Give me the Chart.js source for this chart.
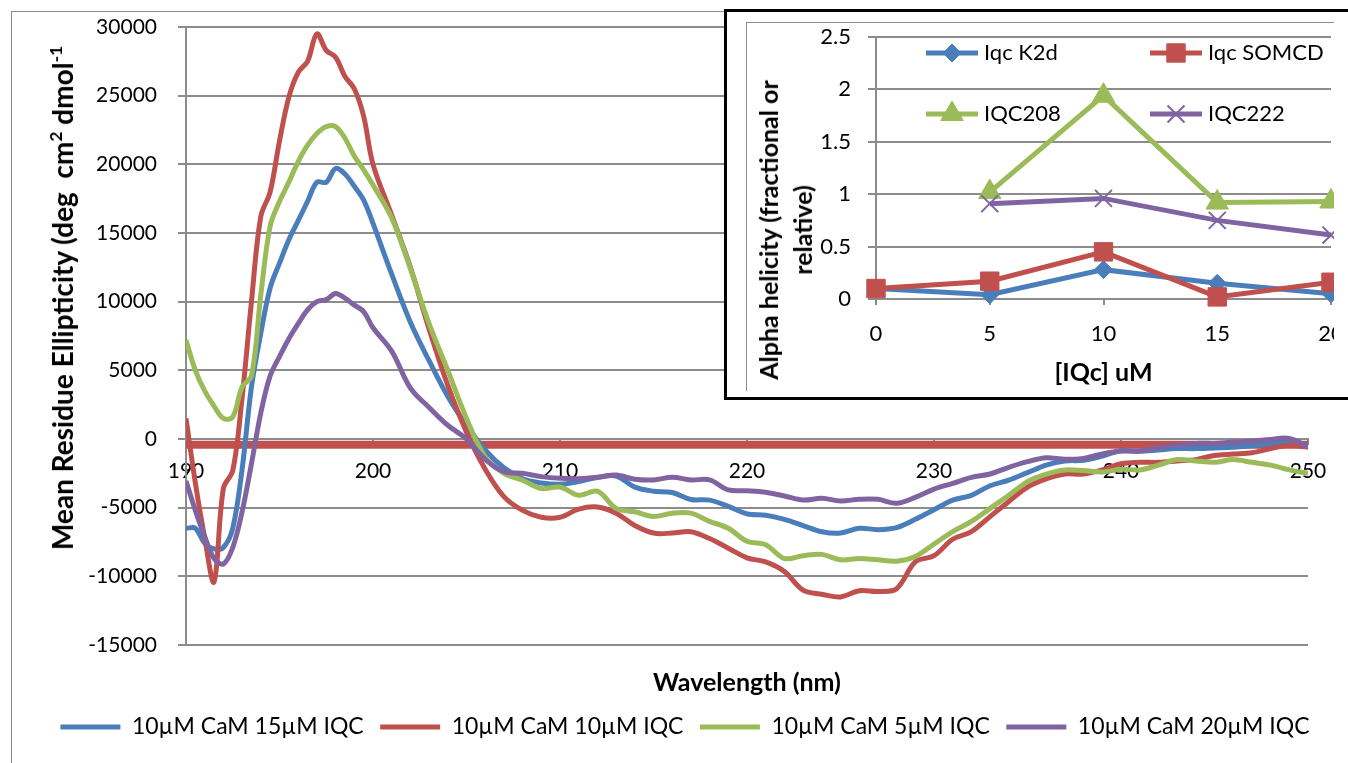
<!DOCTYPE html>
<html>
<head>
<meta charset="utf-8">
<title>CD spectra of CaM with IQC</title>
<script src="https://cdn.jsdelivr.net/npm/chart.js@4.4.1/dist/chart.umd.min.js"></script>
<style>
  html, body { margin: 0; padding: 0; background: #fff; }
  body { width: 1348px; height: 763px; overflow: hidden; position: relative; font-family: Lato, "Liberation Sans", sans-serif; }
  #frame { position: absolute; left: 11px; top: 11px; width: 1400px; height: 800px; border: 1px solid #8c8c8c; }
  #main { position: absolute; left: 0; top: 0; }
  .ytitle { position: absolute; transform: translate(-50%, -50%) rotate(-90deg); white-space: nowrap;
            font-weight: bold; color: #000; text-align: center; }
  .ytitle sup { font-size: 0.62em; vertical-align: 0.65em; line-height: 0; }
  #mainYTitle { left: 62px; top: 298px; font-size: 28px; }
  #inset { position: absolute; left: 724px; top: 9px; width: 700px; height: 385px; border: 3px solid #000;
           border-right: none; background: #fff; }
  #insetFrame { position: absolute; left: 19px; top: 10px; width: 587px; height: 368px; overflow: hidden;
                border-left: 1px solid #8c8c8c; border-top: 1px solid #8c8c8c; }
  #insetCanvas { position: absolute; left: 0; top: 0; }
  #insetYTitle { left: 58px; top: 218px; font-size: 25px; line-height: 34px; }
</style>
</head>
<body>
<div id="frame"></div>
<canvas id="main" width="1348" height="763"></canvas>
<div id="mainYTitle" class="ytitle">Mean Residue Ellipticity (deg&nbsp; cm<sup>2</sup> dmol<sup>-1</sup></div>
<div id="inset">
  <div id="insetFrame"><canvas id="insetCanvas" width="700" height="368"></canvas></div>
  <div id="insetYTitle" class="ytitle">Alpha helicity (fractional or<br>relative)</div>
</div>
<script>
// --- CD spectra (wavelength in nm, ellipticity in deg cm2 dmol-1) ---
const wavelengths = [
  190, 190.5, 191, 191.5, 192, 192.5, 193, 193.5, 194, 194.5, 195, 195.5, 196, 196.5, 197, 197.5,
  198, 198.5, 199, 199.5, 200, 201, 202, 203, 204, 205, 206, 207, 208, 209, 210, 211, 212, 213, 214,
  215, 216, 217, 218, 219, 220, 221, 222, 223, 224, 225, 226, 227, 228, 229, 230, 231, 232, 233, 234,
  235, 236, 237, 238, 239, 240, 241, 242, 243, 244, 245, 246, 247, 248, 249, 250
];

const cam15 = [
  -6500, -6500, -7600, -8000, -7900, -6500, -2200, 3800, 7700, 11000, 12800, 14500, 15900, 17300, 18700, 18700,
  19700, 19300, 18400, 17400, 15700, 12000, 8500, 5700, 3100, 1000, -800, -2100, -2900, -3200, -3300, -3100, -2800, -2700, -3500,
  -3800, -3900, -4400, -4450, -4900, -5450, -5550, -5850, -6300, -6750, -6850, -6500, -6600, -6450, -5850, -5150, -4450, -4100, -3400, -3000,
  -2450, -1900, -1600, -1550, -1250, -850, -900, -800, -700, -700, -650, -600, -500, -350, -200, -500
];

const cam10 = [
  1500, -3200, -7200, -10400, -3600, -2300, 3000, 10000, 16200, 18000, 21700, 24900, 26700, 27500, 29500, 28300,
  27800, 26400, 25500, 23500, 20000, 16300, 12500, 8000, 3900, 500, -2200, -4200, -5200, -5700, -5700, -5100, -4950, -5400, -6300,
  -6850, -6850, -6750, -7250, -7950, -8650, -8950, -9650, -11000, -11300, -11500, -11050, -11100, -10900, -8950, -8500, -7300, -6750, -5650, -4550,
  -3500, -2900, -2550, -2550, -2250, -1800, -1700, -1700, -1600, -1500, -1200, -1100, -1000, -700, -450, -600
];

const cam5 = [
  7200, 5000, 3500, 2400, 1500, 1600, 3800, 4600, 10500, 15500, 17300, 18700, 20200, 21400, 22250, 22750,
  22750, 21900, 20600, 19600, 18500, 16100, 12400, 8400, 5000, 1500, -1300, -2500, -3000, -3600, -3500, -4100, -3800, -5050, -5300,
  -5650, -5400, -5400, -6000, -6500, -7450, -7700, -8700, -8500, -8400, -8800, -8700, -8800, -8900, -8550, -7650, -6750, -6000, -5050, -4100,
  -3100, -2550, -2250, -2300, -2400, -2200, -2250, -1900, -1500, -1600, -1700, -1500, -1700, -1900, -2250, -2500
];

const cam20 = [
  -3050, -5200, -7100, -8700, -9100, -7900, -5300, -1800, 1900, 4600, 6000, 7300, 8400, 9400, 10000, 10150,
  10600, 10250, 9750, 9280, 8100, 6400, 3700, 2300, 1000, 0, -1480, -2380, -2500, -2740, -2860, -2890, -2790, -2620, -2930,
  -2980, -2790, -2980, -2980, -3710, -3770, -3880, -4150, -4440, -4320, -4510, -4390, -4390, -4680, -4250, -3650, -3230, -2790, -2550, -2060,
  -1650, -1360, -1480, -1410, -1090, -880, -870, -630, -460, -320, -320, -220, -170, -30, 40, -560
];

// flat buffer trace
const baselineX = [190, 250];
const baselineY = [-420, -420];

const yTicks = { min: -15000, max: 30000, step: 5000 };
const xTicks = { min: 190, max: 250, step: 10 };

// --- inset: helicity vs IQc concentration ---
const concentrations = [0, 5, 10, 15, 20];
const iqcK2d   = [0.10, 0.04, 0.28, 0.15, 0.05];
const iqcSOMCD = [0.10, 0.17, 0.45, 0.02, 0.16];
const iqc208   = [null, 1.02, 1.94, 0.92, 0.93];
const iqc222   = [null, 0.91, 0.96, 0.75, 0.61];

const BLUE = '#4a7ebb';
const RED = '#c0504d';
const GREEN = '#9bbb59';
const PURPLE = '#8064a2';
const GRID = '#8c8c8c';

Chart.defaults.font.family = 'Lato, "Liberation Sans", sans-serif';
Chart.defaults.color = '#000';

const toPoints = (xs, ys) => xs.map((x, i) => ({ x, y: ys[i] }));

// y labels sit well away from the axis; don't let that push the plot down
function fixedWidth(width) {
  return scale => {
    scale.width = width;
    scale.paddingTop = 0;
    scale.paddingBottom = 0;
  };
}

function spectrum(label, values, color, order) {
  return {
    label,
    data: toPoints(wavelengths, values),
    borderColor: color,
    backgroundColor: color,
    borderWidth: 5,
    pointRadius: 0,
    tension: 0.35,
    order
  };
}

new Chart(document.getElementById('main'), {
  type: 'line',
  data: {
    datasets: [
      spectrum('10µM CaM 15µM IQC', cam15, BLUE, 4),
      spectrum('10µM CaM 10µM IQC', cam10, RED, 3),
      spectrum('10µM CaM 5µM IQC', cam5, GREEN, 2),
      spectrum('10µM CaM 20µM IQC', cam20, PURPLE, 1),
      {
        label: '',
        data: toPoints(baselineX, baselineY),
        borderColor: RED,
        borderWidth: 8,
        pointRadius: 0,
        order: 5
      }
    ]
  },
  options: {
    responsive: false,
    animation: false,
    layout: { padding: { top: 27, right: 0, bottom: 14.5, left: 22 } },
    plugins: {
      tooltip: { enabled: false },
      legend: {
        position: 'bottom',
        labels: {
          usePointStyle: true,
          pointStyle: 'line',
          pointStyleWidth: 60,
          padding: 16.5,
          font: { size: 23 },
          filter: item => item.text !== '',
          sort: (a, b) => a.datasetIndex - b.datasetIndex
        }
      }
    },
    scales: {
      x: {
        type: 'linear',
        position: { y: 0 },
        min: xTicks.min,
        max: xTicks.max,
        ticks: { stepSize: xTicks.step, padding: 15, font: { size: 21 } },
        grid: { drawOnChartArea: false, tickLength: 5, color: GRID, lineWidth: 2 },
        border: { color: GRID, width: 2 }
      },
      // carries only the axis title below the plot
      xTitle: {
        type: 'linear',
        position: 'bottom',
        min: xTicks.min,
        max: xTicks.max,
        ticks: { display: false },
        grid: { display: false, drawTicks: false },
        border: { display: false },
        title: {
          display: true,
          text: 'Wavelength (nm)',
          font: { size: 25, weight: 'bold' },
          padding: { top: 0, bottom: 1 }
        },
        afterFit: scale => { scale.height = 54; }
      },
      y: {
        min: yTicks.min,
        max: yTicks.max,
        ticks: { stepSize: yTicks.step, padding: 21, font: { size: 21 }, callback: v => String(v) },
        grid: { color: GRID, lineWidth: 2, tickLength: 8 },
        border: { color: GRID, width: 2 },
        afterFit: fixedWidth(164)
      },
      // empty strip on the right so the plot ends at 250 nm
      yRight: {
        position: 'right',
        min: yTicks.min,
        max: yTicks.max,
        ticks: { display: false },
        grid: { display: false, drawTicks: false },
        border: { display: false },
        afterFit: scale => { scale.width = 40; }
      }
    }
  }
});

// two-column legend drawn inside the inset plot area
const gridLegend = {
  id: 'gridLegend',
  afterDatasetsDraw(chart, args, opts) {
    const { ctx, chartArea } = chart;
    ctx.save();
    ctx.font = opts.font;
    ctx.textBaseline = 'middle';
    ctx.textAlign = 'left';
    chart.data.datasets.forEach((ds, i) => {
      const x = chartArea.left + opts.columns[i % 2];
      const y = chartArea.top + opts.rows[Math.floor(i / 2)];
      ctx.strokeStyle = ds.borderColor;
      ctx.lineWidth = ds.borderWidth;
      ctx.beginPath();
      ctx.moveTo(x, y);
      ctx.lineTo(x + opts.lineLength, y);
      ctx.stroke();
      if (Chart.helpers && Chart.helpers.drawPoint) {
        ctx.fillStyle = ds.pointBackgroundColor;
        ctx.strokeStyle = ds.pointBorderColor;
        ctx.lineWidth = ds.pointBorderWidth;
        Chart.helpers.drawPoint(ctx, {
          pointStyle: ds.pointStyle,
          radius: ds.pointRadius,
          borderWidth: ds.pointBorderWidth,
          rotation: 0
        }, x + opts.lineLength / 2, y);
      }
      ctx.fillStyle = '#000';
      ctx.fillText(ds.label, x + opts.lineLength + opts.gap, y);
    });
    ctx.restore();
  }
};

function series(label, values, color, style, radius, borderWidth, order) {
  return {
    label,
    data: toPoints(concentrations, values),
    borderColor: color,
    borderWidth: 5,
    pointStyle: style,
    pointRadius: radius,
    pointBackgroundColor: color,
    pointBorderColor: color,
    pointBorderWidth: borderWidth,
    tension: 0,
    clip: false,
    order
  };
}

new Chart(document.getElementById('insetCanvas'), {
  type: 'line',
  data: {
    datasets: [
      series('Iqc K2d', iqcK2d, BLUE, 'rectRot', 9, 1, 4),
      series('Iqc SOMCD', iqcSOMCD, RED, 'rect', 13, 1, 3),
      series('IQC208', iqc208, GREEN, 'triangle', 13, 1, 2),
      series('IQC222', iqc222, PURPLE, 'crossRot', 12, 2, 1)
    ]
  },
  options: {
    responsive: false,
    animation: false,
    layout: { padding: { top: 14, right: 116, bottom: 0, left: 0 } },
    plugins: {
      legend: { display: false },
      tooltip: { enabled: false },
      gridLegend: {
        columns: [50, 274],
        rows: [16, 77],
        lineLength: 52,
        gap: 6,
        font: '22px Lato, "Liberation Sans", sans-serif'
      }
    },
    scales: {
      x: {
        type: 'linear',
        min: 0,
        max: 20,
        ticks: { stepSize: 5, padding: 16, font: { size: 22 } },
        grid: { drawOnChartArea: false, tickLength: 6, color: GRID, lineWidth: 2 },
        border: { color: GRID, width: 2 },
        title: {
          display: true,
          text: '[IQc] uM',
          font: { size: 25, weight: 'bold' },
          padding: { top: 0, bottom: 3 }
        },
        afterFit: scale => { scale.height = 92; }
      },
      y: {
        min: 0,
        max: 2.5,
        ticks: { stepSize: 0.5, padding: 17, font: { size: 22 }, callback: v => String(v) },
        grid: { color: GRID, lineWidth: 2, tickLength: 8 },
        border: { color: GRID, width: 2 },
        afterFit: fixedWidth(129)
      }
    }
  },
  plugins: [gridLegend]
});
</script>
</body>
</html>
